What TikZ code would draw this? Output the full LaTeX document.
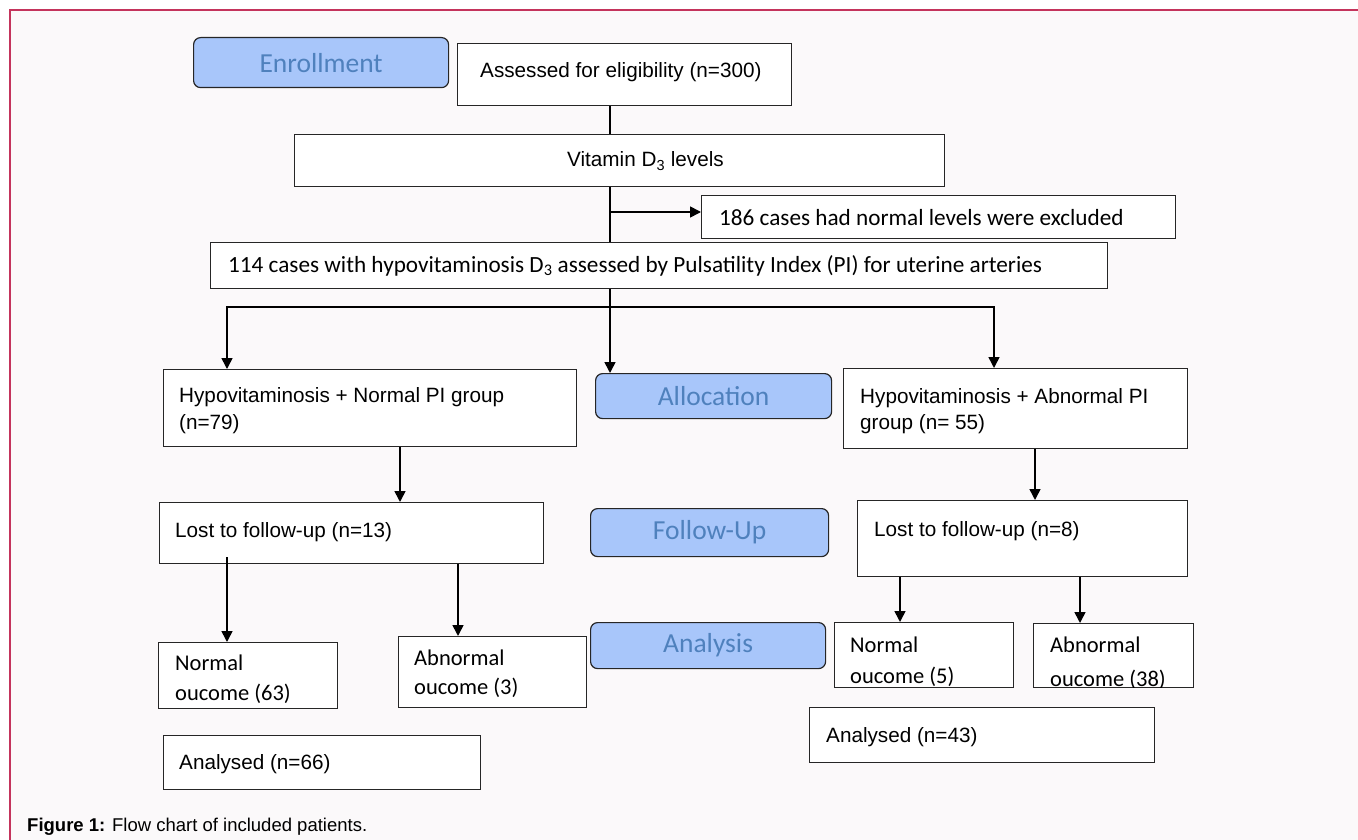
\documentclass[tikz,border=0pt]{standalone}
\usepackage{fontspec}
\setmainfont{Liberation Sans}
\newfontfamily\calfont{Carlito}
\usetikzlibrary{arrows.meta}
\definecolor{bgc}{RGB}{251,249,250}
\definecolor{framec}{RGB}{196,52,92}
\definecolor{stagefill}{RGB}{168,198,250}
\definecolor{stagetext}{RGB}{79,129,189}
\tikzset{
  box/.style={draw=black!85, line width=1.2pt, fill=white, inner sep=0pt, anchor=north west},
  stage/.style={draw=black!85, line width=1.2pt, fill=stagefill, rounded corners=7pt, text=stagetext,
     font=\calfont\fontsize{27.5}{30}\selectfont, inner sep=0pt, anchor=north west},
  atxt/.style={inner sep=0pt, anchor=base west, font=\fontsize{20.7}{28}\selectfont},
  ctxt/.style={inner sep=0pt, anchor=base west, font=\calfont\fontsize{22.5}{30}\selectfont},
  ctxtl/.style={inner sep=0pt, anchor=base west, font=\calfont\fontsize{23.2}{30}\selectfont},
  ln/.style={line width=1.6pt, black},
  arr/.style={line width=1.6pt, black, -{Triangle[length=11pt,width=11pt]}},
}
\begin{document}
\begin{tikzpicture}[x=1pt,y=-1pt]
\useasboundingbox (0,0) rectangle (1358,840);
\fill[white] (0,0) rectangle (1358,840);
\fill[bgc] (10,10) rectangle (1358,840);
\draw[framec, line width=2pt] (10,840) -- (10,10) -- (1358,10);

% stage boxes
\node[stage, minimum width=255pt, minimum height=50pt] (enroll) at (193,37) {Enrollment};
\node[stage, minimum width=236pt, minimum height=45pt] (alloc) at (595,373) {Allocation};
\node[stage, minimum width=238pt, minimum height=48pt] (fup) at (590,508) {Follow-Up};
\node[stage, minimum width=235pt, minimum height=46pt] (anl) at (590,622) {Analysis};

% boxes
\node[box, minimum width=334pt, minimum height=62pt] (assess) at (457,43) {};
\node[box, minimum width=650pt, minimum height=52pt] (vit) at (294,134) {};
\node[box, minimum width=474pt, minimum height=43pt] (excl) at (701,195) {};
\node[box, minimum width=897pt, minimum height=46pt] (h114) at (210,242) {};
\node[box, minimum width=413pt, minimum height=77pt] (npi) at (163,369) {};
\node[box, minimum width=344pt, minimum height=80pt] (api) at (843,368) {};
\node[box, minimum width=384pt, minimum height=61pt] (l13) at (159,502) {};
\node[box, minimum width=330pt, minimum height=76pt] (l8) at (857,500) {};
\node[box, minimum width=179pt, minimum height=66pt] (n63) at (158,642) {};
\node[box, minimum width=188pt, minimum height=71pt] (ab3) at (398,636) {};
\node[box, minimum width=179pt, minimum height=65pt] (n5) at (834,622) {};
\node[box, minimum width=160pt, minimum height=64pt] (ab38) at (1033,623) {};
\node[box, minimum width=317pt, minimum height=54pt] (an66) at (163,735) {};
\node[box, minimum width=345pt, minimum height=55pt] (an43) at (809,707) {};

% texts
\node[atxt] (assess-t) at (480,78) {Assessed for eligibility (n=300)};
\node[atxt] (vit-t) at (567,167) {Vitamin D\textsubscript{3} levels};
\node[ctxtl] (excl-t) at (719,225) {186 cases had normal levels were excluded};
\node[ctxtl] (h114-t) at (228,272) {114 cases with hypovitaminosis D\textsubscript{3} assessed by Pulsatility Index (PI) for uterine arteries};
\node[atxt] (npi-t1) at (179,402) {Hypovitaminosis + Normal PI group};
\node[atxt] (npi-t2) at (179,429) {(n=79)};
\node[atxt] (api-t1) at (860,403) {Hypovitaminosis + Abnormal PI};
\node[atxt] (api-t2) at (860,429) {group (n= 55)};
\node[atxt] (l13-t) at (175,537) {Lost to follow-up (n=13)};
\node[atxt] (l8-t) at (874,536) {Lost to follow-up (n=8)};
\begin{scope}
\clip ([xshift=0.6pt,yshift=0.6pt]n63.south west) rectangle ([xshift=-0.6pt,yshift=-0.6pt]n63.north east);
\node[ctxt] (n63-t1) at (175,670) {Normal};
\node[ctxt] (n63-t2) at (175,700) {oucome (63)};
\end{scope}
\node[ctxt] (ab3-t1) at (414,665) {Abnormal};
\node[ctxt] (ab3-t2) at (414,694) {oucome (3)};
\begin{scope}
\clip ([xshift=0.6pt,yshift=0.6pt]n5.south west) rectangle ([xshift=-0.6pt,yshift=-0.6pt]n5.north east);
\node[ctxt] (n5-t1) at (850,652) {Normal};
\node[ctxt] (n5-t2) at (850,683) {oucome (5)};
\end{scope}
\begin{scope}
\clip ([xshift=0.6pt,yshift=0.6pt]ab38.south west) rectangle ([xshift=-0.6pt,yshift=-0.6pt]ab38.north east);
\node[ctxt] (ab38-t1) at (1050,652) {Abnormal};
\node[ctxt] (ab38-t2) at (1050,686) {oucome (38)};
\end{scope}
\node[atxt] (an66-t) at (179,769) {Analysed (n=66)};
\node[atxt] (an43-t) at (826,742) {Analysed (n=43)};
\node[inner sep=0pt, anchor=base west, font=\fontsize{18.5}{20}\selectfont] (cap) at (27,831) {\textbf{Figure 1:} Flow chart of included patients.};

% connectors
\coordinate (xa) at (610,0);
\draw[ln] (assess.south -| xa) -- (vit.north -| xa);
\draw[ln] (vit.south -| xa) -- (h114.north -| xa);
\coordinate (jx) at (610,212);
\draw[arr] (jx) -- (jx -| excl.west);
\draw[arr] (h114.south -| xa) -- (alloc.north -| xa);
\coordinate (bl) at (227,307);
\coordinate (br) at (994,307);
\draw[arr] (xa |- bl) -- (bl) -- (npi.north -| bl);
\draw[arr] (xa |- br) -- (br) -- (api.north -| br);
\coordinate (x1) at (400,0);
\draw[arr] (npi.south -| x1) -- (l13.north -| x1);
\coordinate (x2) at (1035,0);
\draw[arr] (api.south -| x2) -- (l8.north -| x2);
\coordinate (x3) at (227,557);
\draw[arr] (x3) -- (n63.north -| x3);
\coordinate (x4) at (458,0);
\draw[arr] (l13.south -| x4) -- (ab3.north -| x4);
\coordinate (x5) at (900,0);
\draw[arr] (l8.south -| x5) -- (n5.north -| x5);
\coordinate (x6) at (1080,0);
\draw[arr] (l8.south -| x6) -- (ab38.north -| x6);
\end{tikzpicture}
\end{document}
